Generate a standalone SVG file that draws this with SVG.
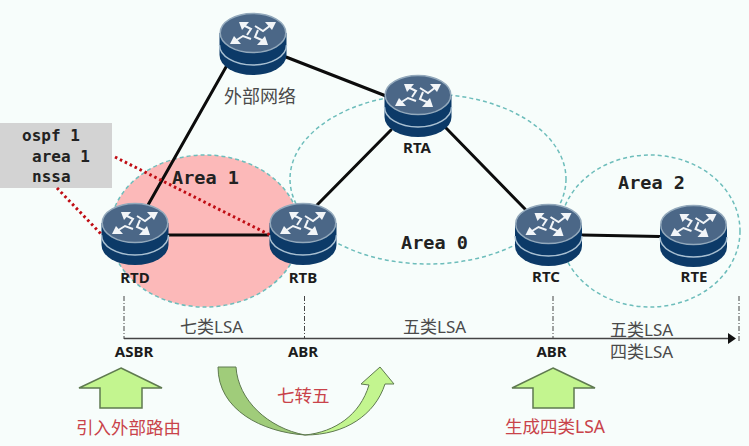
<svg xmlns="http://www.w3.org/2000/svg" width="749" height="446" viewBox="0 0 749 446">
<style>
.area{stroke:#6dbdbb;stroke-width:1.5;stroke-dasharray:4 3;fill:none}
.link{stroke:#0c0c0c;stroke-width:3;fill:none;stroke-linecap:round}
.red{stroke:#c00d14;stroke-width:3;stroke-dasharray:2.5 3;fill:none}
.guide{stroke:#444;stroke-width:1;stroke-dasharray:5 2 1 2;fill:none}
.mono{font-family:"DejaVu Sans Mono","Liberation Mono",monospace;font-weight:bold;fill:#222}
.name{font-family:"Noto Sans","Liberation Sans",sans-serif;font-weight:bold;font-size:15px;fill:#1c1c1c;text-anchor:middle}
.cjk{font-family:"Noto Sans","Noto Sans CJK SC",sans-serif;font-size:17px;fill:#4a4a4a}
.tag{font-family:"Noto Sans","Noto Sans CJK SC",sans-serif;font-size:17.5px;fill:#c9434a}
.up{fill:#c3f58f;stroke:#5f7a50;stroke-width:1.5}
.ar{fill:none;stroke:#f2f5f8;stroke-width:2}
.hd{fill:#f2f5f8}
</style>
<defs>
<g id="router">
<path d="M-33.5 0V22A33.5 20 0 0 0 33.5 22V0Z" fill="#0c3a68"/>
<path d="M-33.5 12A33.5 20 0 0 0 33.5 12" fill="none" stroke="#a9c0d2" stroke-width="1.5"/>
<ellipse cx="0" cy="0" rx="32.8" ry="19.5" fill="#4b6787" stroke="#93a9bc" stroke-width="1.5"/>
<path class="ar" d="M-6 2L-2 -4L-10 -8"/>
<path class="hd" d="M-14 -11L-4 -11L-11 -3Z"/>
<path class="ar" d="M2 -7L10 -2L18 -8"/>
<path class="hd" d="M23 -11L12 -11L19 -3Z"/>
<path class="ar" d="M-2 6L-10 3L-18 8"/>
<path class="hd" d="M-23 11L-12 11L-19 3Z"/>
<path class="ar" d="M5 -3L2 4L11 8"/>
<path class="hd" d="M15 12L4 12L12 3Z"/>
</g>
</defs>
<rect id="background" width="749" height="446" fill="#f7fdfb"/>
<g id="areas">
<ellipse id="area1" class="area" cx="205" cy="231" rx="95" ry="76" style="fill:#fcb9b9"/>
<ellipse id="area0" class="area" cx="428" cy="179" rx="138" ry="85"/>
<ellipse id="area2" class="area" cx="650" cy="231" rx="90" ry="76"/>
</g>
<g id="connectors">
<path class="link" d="M226 67L148 205"/>
<path class="link" d="M286 57L386 96"/>
<path class="link" d="M168 235H270"/>
<path class="link" d="M317 205L391 130"/>
<path class="link" d="M446 128L525 209"/>
<path class="link" d="M582 235L660 236.5"/>
<path class="guide" d="M124 296V339"/>
<path class="guide" d="M304.500 296V339"/>
<path class="guide" d="M553 296V339"/>
<path class="guide" d="M739 296V343"/>
<path d="M124 338.500H728" stroke="#444" stroke-width="1.500"/>
<path d="M728 333L736 338.500L728 344Z" fill="#111"/>
</g>
<g id="node-external"><use href="#router" x="253" y="33"/><text class="cjk" x="224" y="103" style="font-size:18px">外部网络</text></g>
<g id="node-rtd"><use href="#router" x="135" y="223"/><text class="name" x="135" y="283">RTD</text></g>
<g id="node-rtb"><use href="#router" x="303" y="223"/><text class="name" x="303" y="283">RTB</text></g>
<g id="node-rta"><use href="#router" x="418" y="95"/><text class="name" x="417" y="153">RTA</text></g>
<g id="node-rtc"><use href="#router" x="548.500" y="224"/><text class="name" x="546" y="282">RTC</text></g>
<g id="node-rte"><use href="#router" x="693.500" y="225"/><text class="name" x="694" y="282">RTE</text></g>
<g id="config">
<rect x="0" y="123" width="112" height="65" fill="#d3d3d3"/>
<text class="mono" font-size="16" x="22" y="141">ospf 1</text>
<text class="mono" font-size="16" x="32" y="162">area 1</text>
<text class="mono" font-size="16" x="32" y="182">nssa</text>
<path class="red" d="M115 157L270 235"/>
<path class="red" d="M57 188L102 235"/>
</g>
<g id="area-labels">
<text class="mono" font-size="18.500" x="172" y="184">Area 1</text>
<text class="mono" font-size="18.500" x="401" y="249">Area 0</text>
<text class="mono" font-size="18.500" x="618" y="189">Area 2</text>
</g>
<g id="lsa-labels">
<text class="cjk" x="180" y="333">七类LSA</text>
<text class="cjk" x="403" y="333">五类LSA</text>
<text class="cjk" x="610" y="336">五类LSA</text>
<text class="cjk" x="610" y="358">四类LSA</text>
<text class="name" x="134" y="357">ASBR</text>
<text class="name" x="303" y="357">ABR</text>
<text class="name" x="551.500" y="357">ABR</text>
</g>
<g id="action-asbr">
<path class="up" d="M121 368L162 388H142V408H100V388H79Z"/>
<text class="tag" x="76" y="434">引入外部路由</text>
</g>
<g id="action-convert">
<path d="M218 367H236C238 400 268 428 305 435C262 432 218 410 218 367Z" fill="#a0cc7a" stroke="#5f7a50" stroke-width="1"/>
<path d="M305 435C335 432 360 415 369 385L361 384L380 367L394 384L385 384C375 415 345 435 305 435Z" fill="#c3f58f" stroke="#5f7a50" stroke-width="1"/>
<text class="tag" x="277" y="402">七转五</text>
</g>
<g id="action-abr">
<path class="up" d="M553 368L595 388H574V408H533V388H512Z"/>
<text class="tag" x="505" y="433">生成四类LSA</text>
</g>
</svg>
